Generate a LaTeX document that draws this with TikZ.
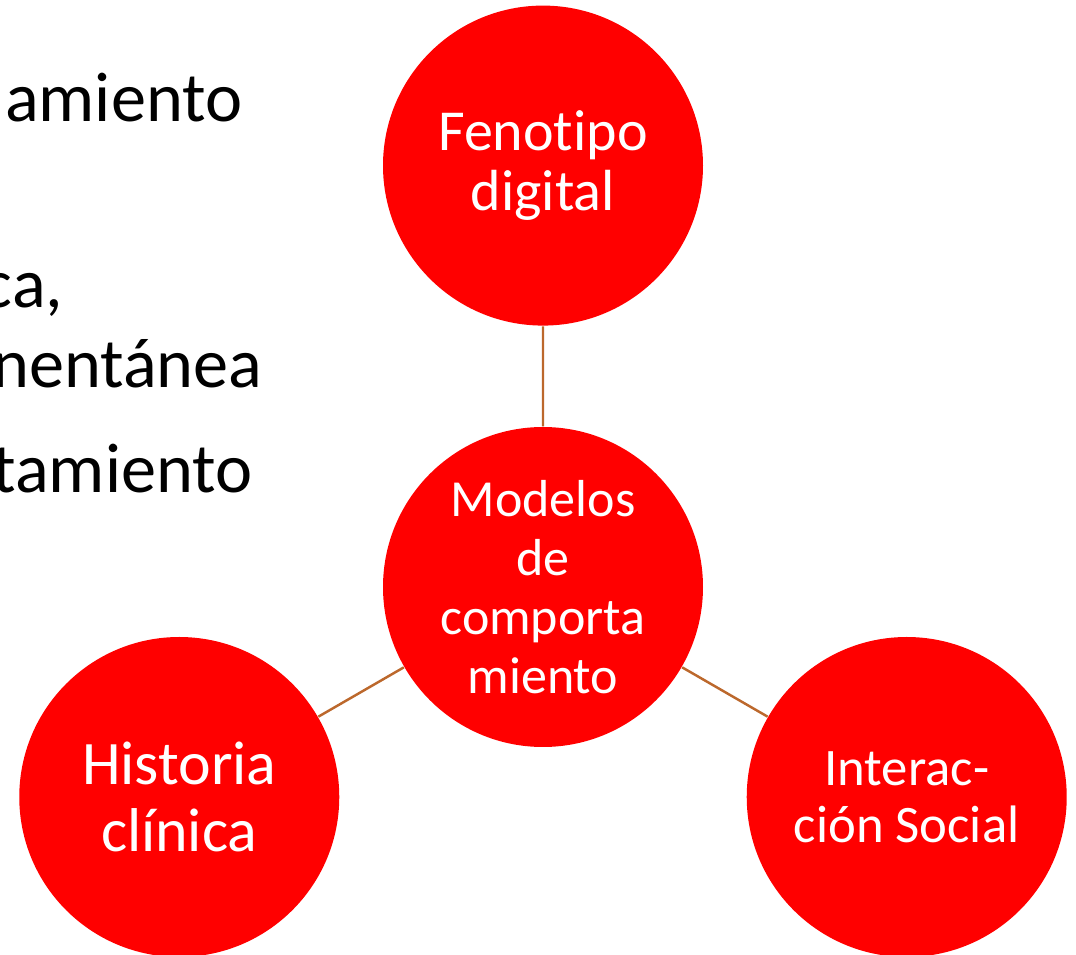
\documentclass[tikz,border=0pt]{standalone}
\usepackage{fontspec}
\setmainfont[Ligatures=NoCommon]{Carlito}
\usetikzlibrary{positioning,calc}
\definecolor{rojo}{RGB}{255,0,0}
\definecolor{cafe}{RGB}{188,104,44}

\begin{document}
\begin{tikzpicture}[
  bola/.style={circle, fill=rojo, text=white, minimum size=3.2cm, inner sep=0pt, align=center},
  resto/.style={anchor=base east, inner sep=0pt, font=\fontsize{20}{24}\selectfont}]
\useasboundingbox (0,0) rectangle (10.76,9.55);
\clip (0,0) rectangle (10.76,9.55);
% texto cortado de la diapositiva
\node[resto] (t1) at (2.43,8.33) {amiento};
\node[resto] (t2) at (0.64,6.47) {ca,};
\node[resto] (t3) at (2.63,5.67) {nentánea};
\node[resto] (t4) at (2.53,4.62) {tamiento};
% circulos
\node[bola, font=\fontsize{14.8}{16.8}\selectfont] (nm) at (5.43,3.68) {Modelos\\de\\comporta\\miento};
\node[bola, font=\fontsize{16.5}{17.1}\selectfont, above=1cm of nm] (nf) {Fenotipo\\digital};
\node[bola, font=\fontsize{17.6}{19.1}\selectfont] (nh) at ($(nm)+(210:4.2)$) {Historia\\clínica};
\node[bola, font=\fontsize{15}{16.2}\selectfont] (ni) at ($(nm)+(-30:4.2)$) {Interac-\\ción Social};
\path[draw=cafe, line width=0.7pt] (nf) -- (nm)
(nm) -- (nh)
(nm) -- (ni);
\end{tikzpicture}
\end{document}
